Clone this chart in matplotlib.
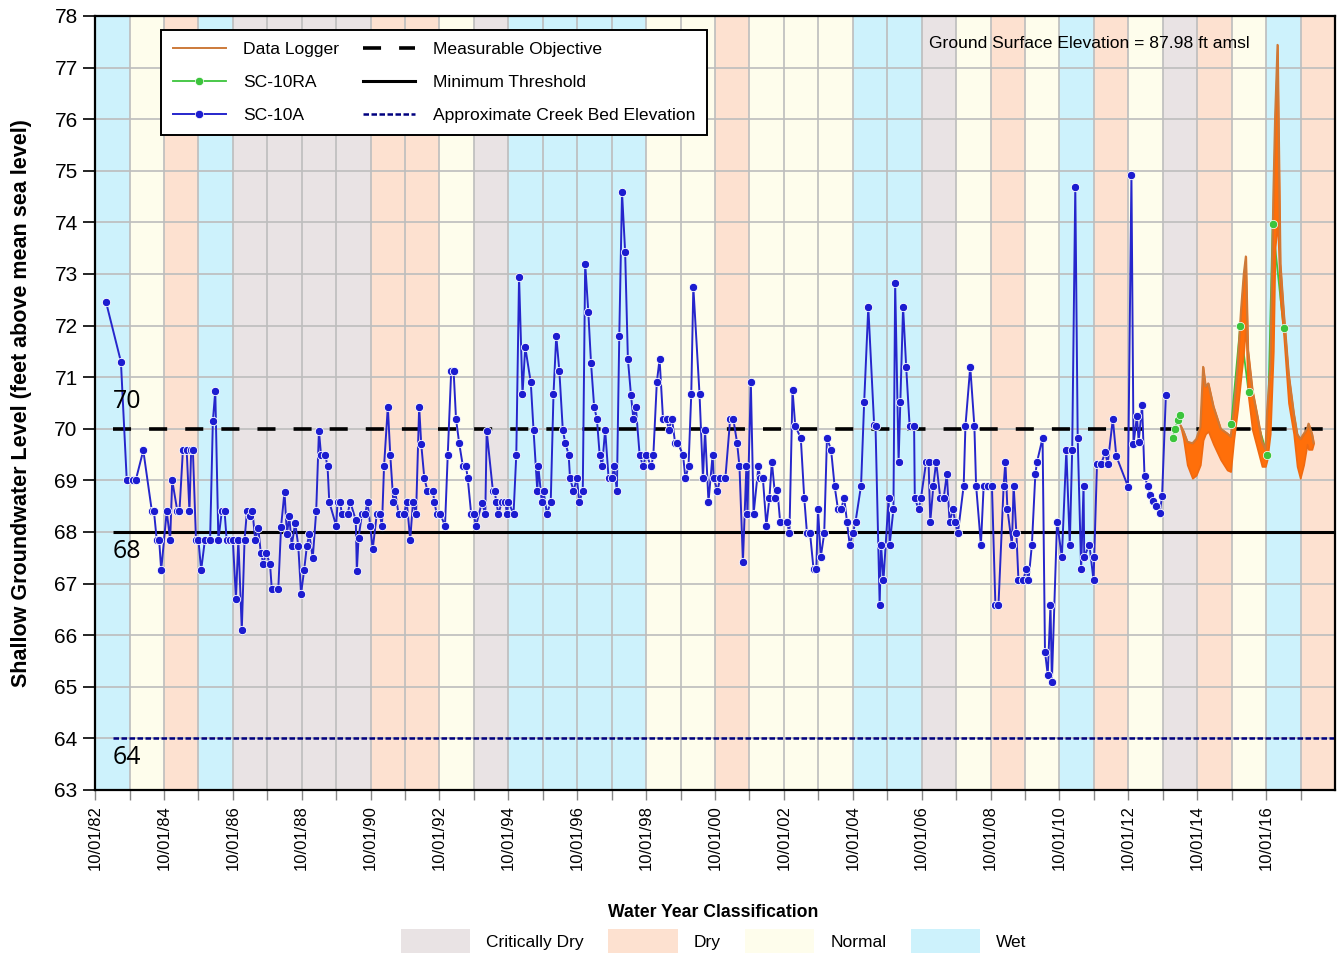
import matplotlib
matplotlib.use("Agg")
import matplotlib.pyplot as plt
from matplotlib.lines import Line2D
from matplotlib.patches import Patch

OUTPUT_PATH = "out.png"

# water year classification, WY1983 .. WY2018 (each year starts 10/01 of the previous year)
water_years = list(range(1983, 2019))
wy_class = [
    "Wet", "Normal", "Dry", "Wet", "Critically Dry", "Critically Dry", "Critically Dry",
    "Critically Dry", "Dry", "Dry", "Normal", "Critically Dry", "Wet", "Wet", "Wet", "Wet",
    "Normal", "Normal", "Dry", "Normal", "Normal", "Normal", "Wet", "Wet", "Critically Dry",
    "Normal", "Dry", "Normal", "Wet", "Dry", "Normal", "Critically Dry", "Dry", "Normal",
    "Wet", "Dry",
]
class_names = ["Critically Dry", "Dry", "Normal", "Wet"]
class_colors = {
    "Critically Dry": "#E9E3E4",
    "Dry": "#FDE1D0",
    "Normal": "#FEFDEC",
    "Wet": "#CDF2FC",
}

# SC-10A (decimal year, ft amsl)
sc10a_year = [
    1983.07, 1983.50, 1983.67, 1983.86, 1983.93, 1984.15, 1984.40, 1984.46, 1984.54, 1984.61,
    1984.67, 1984.83, 1984.93, 1984.99, 1985.14, 1985.20, 1985.30, 1985.41, 1985.49, 1985.54,
    1985.59, 1985.68, 1985.75, 1985.83, 1985.94, 1986.09, 1986.17, 1986.24, 1986.33, 1986.43,
    1986.51, 1986.57, 1986.67, 1986.75, 1986.84, 1986.91, 1987.01, 1987.09, 1987.16, 1987.25,
    1987.32, 1987.40, 1987.49, 1987.56, 1987.64, 1987.71, 1987.83, 1987.88, 1988.07, 1988.15,
    1988.25, 1988.32, 1988.39, 1988.46, 1988.56, 1988.65, 1988.73, 1988.82, 1988.90, 1988.97,
    1989.07, 1989.17, 1989.25, 1989.31, 1989.43, 1989.50, 1989.55, 1989.75, 1989.79, 1989.87,
    1989.91, 1990.08, 1990.16, 1990.32, 1990.35, 1990.40, 1990.50, 1990.59, 1990.66, 1990.74,
    1990.81, 1990.93, 1991.01, 1991.08, 1991.14, 1991.25, 1991.32, 1991.41, 1991.46, 1991.56,
    1991.72, 1991.80, 1991.90, 1991.98, 1992.07, 1992.16, 1992.22, 1992.31, 1992.40, 1992.56,
    1992.60, 1992.67, 1992.77, 1992.91, 1992.99, 1993.09, 1993.16, 1993.23, 1993.32, 1993.43,
    1993.52, 1993.57, 1993.67, 1993.74, 1993.81, 1993.98, 1994.08, 1994.12, 1994.30, 1994.35,
    1994.40, 1994.46, 1994.56, 1994.66, 1994.71, 1994.75, 1994.90, 1994.98, 1995.06, 1995.16,
    1995.24, 1995.40, 1995.48, 1995.59, 1995.62, 1995.72, 1995.77, 1995.87, 1995.98, 1996.06,
    1996.14, 1996.23, 1996.33, 1996.40, 1996.50, 1996.54, 1996.64, 1996.74, 1996.81, 1996.91,
    1996.98, 1997.07, 1997.15, 1997.24, 1997.32, 1997.40, 1997.47, 1997.56, 1997.66, 1997.76,
    1997.82, 1997.90, 1997.97, 1998.05, 1998.14, 1998.22, 1998.31, 1998.38, 1998.45, 1998.56,
    1998.66, 1998.75, 1998.90, 1998.96, 1999.06, 1999.14, 1999.24, 1999.35, 1999.40, 1999.50,
    1999.59, 1999.66, 1999.82, 1999.89, 1999.98, 2000.06, 2000.12, 2000.30, 2000.40, 2000.46,
    2000.56, 2000.68, 2000.71, 2000.82, 2000.90, 2001.05, 2001.19, 2001.28, 2001.39, 2001.46,
    2001.56, 2001.66, 2001.69, 2001.79, 2001.87, 2002.01, 2002.06, 2002.14, 2002.24, 2002.33,
    2002.40, 2002.50, 2002.56, 2002.64, 2002.84, 2002.91, 2003.00, 2003.08, 2003.24, 2003.34,
    2003.42, 2003.51, 2003.61, 2003.69, 2003.74, 2003.82, 2003.92, 2004.00, 2004.12, 2004.22,
    2004.32, 2004.41, 2004.50, 2004.58, 2004.66, 2004.75, 2004.83, 2004.99, 2005.08, 2005.20,
    2005.37, 2005.41, 2005.53, 2005.57, 2005.64, 2005.79, 2005.82, 2005.93, 2005.98, 2006.08,
    2006.13, 2006.21, 2006.30, 2006.40, 2006.53, 2006.55, 2006.66, 2006.73, 2006.88, 2006.95,
    2007.00, 2007.09, 2007.17, 2007.29, 2007.39, 2007.48, 2007.56, 2007.66, 2007.72, 2007.80,
    2007.97, 2008.02, 2008.16, 2008.28, 2008.33, 2008.47, 2008.55, 2008.68, 2008.79, 2008.89,
    2008.98, 2009.13, 2009.18, 2009.24, 2009.37, 2009.42, 2009.50, 2009.56, 2009.69, 2009.79,
    2009.85, 2009.95, 2010.05, 2010.10, 2010.26, 2010.33, 2010.41, 2010.49, 2010.53, 2010.68,
    2010.82, 2010.95, 2011.05, 2011.12, 2011.21, 2011.28, 2011.38, 2011.45, 2011.47, 2011.62,
    2011.74, 2011.76, 2011.84, 2011.96, 2012.08, 2012.15, 2012.30, 2012.40, 2012.74, 2012.84,
    2012.90, 2013.00, 2013.05, 2013.15, 2013.22, 2013.31, 2013.39, 2013.48, 2013.56, 2013.66,
    2013.73, 2013.84,
]
sc10a_level = [
    72.45, 71.30, 69.00, 69.00, 69.00, 69.58, 68.40, 68.40, 67.85, 67.85,
    67.26, 68.40, 67.85, 69.00, 68.40, 68.40, 69.58, 69.58, 68.40, 69.58,
    69.58, 67.85, 67.85, 67.26, 67.85, 67.85, 70.15, 70.73, 67.85, 68.40,
    68.40, 67.85, 67.85, 67.85, 66.70, 67.85, 66.10, 67.85, 68.40, 68.30,
    68.40, 67.85, 68.07, 67.60, 67.38, 67.60, 67.38, 66.90, 66.90, 68.10,
    68.78, 67.96, 68.30, 67.73, 68.18, 67.73, 66.80, 67.26, 67.73, 67.96,
    67.49, 68.40, 69.96, 69.50, 69.50, 69.27, 68.58, 68.12, 68.58, 68.58,
    68.35, 68.35, 68.58, 68.23, 67.24, 67.89, 68.35, 68.35, 68.58, 68.12,
    67.66, 68.35, 68.35, 68.12, 69.27, 70.43, 69.50, 68.58, 68.80, 68.35,
    68.35, 68.58, 67.85, 68.58, 68.35, 70.43, 69.70, 69.04, 68.80, 68.80,
    68.58, 68.35, 68.35, 68.12, 69.50, 71.12, 71.12, 70.19, 69.73, 69.27,
    69.27, 69.04, 68.35, 68.35, 68.12, 68.57, 68.35, 69.96, 68.80, 68.80,
    68.58, 68.35, 68.58, 68.58, 68.35, 68.58, 68.35, 69.50, 72.95, 70.67,
    71.58, 70.90, 69.98, 68.80, 69.27, 68.58, 68.80, 68.35, 68.58, 70.67,
    71.80, 71.12, 69.98, 69.73, 69.50, 69.04, 68.80, 69.04, 68.58, 68.80,
    73.20, 72.27, 71.27, 70.43, 70.19, 69.50, 69.27, 69.98, 69.04, 69.04,
    69.27, 68.80, 71.80, 74.58, 73.43, 71.35, 70.65, 70.19, 70.43, 69.50,
    69.27, 69.50, 69.27, 69.50, 70.90, 71.35, 70.19, 70.19, 69.98, 70.19,
    69.73, 69.73, 69.50, 69.04, 69.27, 70.67, 72.75, 70.67, 69.04, 69.98,
    68.58, 69.50, 69.04, 68.80, 69.04, 69.04, 70.19, 70.19, 69.73, 69.27,
    67.42, 69.27, 68.35, 70.90, 68.35, 69.27, 69.04, 69.04, 68.12, 68.66,
    69.36, 68.66, 68.82, 68.20, 68.20, 67.97, 70.75, 70.05, 69.82, 68.66,
    67.97, 67.97, 67.28, 67.28, 68.44, 67.51, 67.97, 69.82, 69.59, 68.90,
    68.44, 68.44, 68.66, 68.20, 67.75, 67.97, 68.20, 68.90, 70.51, 72.36,
    70.07, 70.05, 66.59, 67.75, 67.06, 68.66, 67.75, 68.44, 72.83, 69.36,
    70.51, 72.36, 71.20, 70.05, 70.05, 68.66, 68.44, 68.66, 69.36, 69.36,
    68.20, 68.90, 69.36, 68.66, 68.66, 69.12, 68.20, 68.44, 68.20, 67.97,
    68.90, 70.05, 71.20, 70.05, 68.90, 67.75, 68.90, 68.90, 68.90, 66.59,
    66.59, 68.90, 69.36, 68.44, 67.75, 68.90, 67.97, 67.06, 67.06, 67.28,
    67.06, 67.75, 69.12, 69.36, 69.82, 65.68, 65.23, 66.59, 65.10, 68.20,
    67.51, 69.59, 67.75, 69.59, 74.69, 69.82, 67.28, 68.90, 67.52, 67.75,
    67.06, 67.51, 69.32, 69.32, 69.54, 69.32, 70.19, 69.47, 68.88, 74.92,
    69.70, 70.25, 69.75, 70.46, 69.08, 68.90, 68.72, 68.60, 68.50, 68.36,
    68.70, 70.65,
]

# SC-10RA (nan = no connecting line between the two sampling periods)
sc10ra_year = [2014.04, 2014.11, 2014.19, 2014.25, 2015.00, 2015.74, 2016.00, 2016.24, 2016.78,
               2016.94, 2017.26]
sc10ra_level = [69.83, 70.00, 70.17, 70.27, float("nan"), 70.10, 72.00, 70.72, 69.50, 73.97,
                71.95]

# Data logger, daily record read as low / high envelope
logger_year = [
    2014.26, 2014.35, 2014.46, 2014.61, 2014.72, 2014.84, 2014.92, 2014.99, 2015.07, 2015.22,
    2015.43, 2015.62, 2015.72, 2015.81, 2015.92, 2016.02, 2016.10, 2016.16, 2016.22, 2016.35,
    2016.50, 2016.63, 2016.73, 2016.78, 2016.87, 2016.96, 2017.01, 2017.08, 2017.16, 2017.26,
    2017.40, 2017.55, 2017.65, 2017.74, 2017.84, 2017.94, 2017.98, 2018.08, 2018.13,
]
logger_low = [
    70.07, 69.80, 69.30, 69.04, 69.10, 69.30, 69.78, 69.90, 69.95, 69.70,
    69.40, 69.20, 69.17, 69.78, 70.36, 71.00, 71.50, 72.00, 70.69, 69.98,
    69.60, 69.27, 69.27, 69.40, 69.90, 71.50, 73.50, 74.00, 72.50, 71.80,
    70.50, 69.90, 69.27, 69.04, 69.30, 69.70, 69.60, 69.60, 69.72,
]
logger_high = [
    70.07, 69.95, 69.75, 69.72, 69.80, 70.04, 71.20, 70.82, 70.88, 70.43,
    70.00, 69.91, 69.85, 70.36, 71.20, 72.30, 73.00, 73.34, 71.53, 70.75,
    70.23, 69.75, 69.60, 70.36, 71.20, 74.57, 76.05, 77.44, 73.20, 72.24,
    71.07, 70.30, 69.90, 69.80, 69.90, 70.00, 70.10, 69.90, 69.72,
]

measurable_objective = 70
minimum_threshold = 68
creek_bed = 64
ref_start = 1983.27

x_min, x_max = 1982.75, 2018.75
y_min, y_max = 63, 78

ARIAL = ["Liberation Sans", "DejaVu Sans"]


def main():
    plt.rcParams["font.family"] = ARIAL
    fig = plt.figure(figsize=(13.39, 9.58), dpi=100)
    ax = fig.add_axes([0.071, 0.1754, 0.926, 0.808])

    # water year bands, 10/01 to 10/01
    for wy, cls in zip(water_years, wy_class):
        ax.axvspan(wy - 0.25, wy + 0.75, color=class_colors[cls], lw=0, zorder=0)

    for wy in water_years:
        ax.axvline(wy - 0.25, color="#BDBDBD", lw=1.2, zorder=1)
    for lvl in range(y_min, y_max + 1):
        ax.axhline(lvl, color="#BDBDBD", lw=1.2, zorder=1)

    ax.hlines(measurable_objective, ref_start, x_max, colors="black", linestyles=(0, (5, 5)),
              lw=2.6, zorder=3)
    ax.hlines(minimum_threshold, ref_start, x_max, colors="black", lw=2.2, zorder=3)
    ax.hlines(creek_bed, ref_start, x_max, colors="#00007F", linestyles=(0, (2.2, 1)),
              lw=1.8, zorder=3)

    ax.plot(sc10a_year, sc10a_level, color="#2626CC", lw=1.4, marker="o", ms=6,
            mfc="#1C1CD0", mec="white", mew=0.6, zorder=4)

    # green line sits under the logger band, its dots on top
    ax.plot(sc10ra_year, sc10ra_level, color="#3CC43C", lw=1.3, zorder=4.5)
    ax.fill_between(logger_year, logger_low, logger_high, color="#FF6F0A", lw=1.2,
                    edgecolor="#F06A10", zorder=5)
    ax.plot(logger_year, logger_high, color="#CC7A3A", lw=1.4, zorder=5)
    ax.plot(sc10ra_year, sc10ra_level, linestyle="none", marker="o", ms=6,
            mfc="#3CC43C", mec="white", mew=0.5, zorder=6)

    ref_font = ["Open Sans", "DejaVu Sans"]
    ax.text(ref_start, 70.52, "70", fontsize=18, family=ref_font, va="center", ha="left", zorder=7)
    ax.text(ref_start, 67.63, "68", fontsize=18, family=ref_font, va="center", ha="left", zorder=7)
    ax.text(ref_start, 63.62, "64", fontsize=18, family=ref_font, va="center", ha="left", zorder=7)

    ax.text(0.6726, 0.964, "Ground Surface Elevation = 87.98 ft amsl", transform=ax.transAxes,
            fontsize=12.6, va="center", ha="left", zorder=7)

    major = [x_min + 2 * k for k in range(18)]
    ax.set_xticks(major)
    ax.set_xticklabels([f"10/01/{int(m) % 100:02d}" for m in major], rotation=90, fontsize=12)
    ax.set_xticks([wy - 0.25 for wy in water_years], minor=True)
    ax.set_yticks(range(y_min, y_max + 1))
    ax.set_xlim(x_min, x_max)
    ax.set_ylim(y_min, y_max)
    ax.tick_params(axis="y", labelsize=15, length=9, width=1.2, direction="out")
    ax.tick_params(axis="x", which="both", length=7, width=1, color="#888888", pad=4)
    for spine in ax.spines.values():
        spine.set_color("black")
        spine.set_linewidth(1.6)
        spine.set_zorder(8)

    ax.set_ylabel("Shallow Groundwater Level (feet above mean sea level)", fontsize=15.5,
                  fontweight="bold", labelpad=16)

    handles = [
        Line2D([], [], color="#CC7A3A", lw=1.4),
        Line2D([], [], color="#3CC43C", lw=1.3, marker="o", ms=6, mec="white", mew=0.5),
        Line2D([], [], color="#2626CC", lw=1.4, marker="o", ms=6, mfc="#1C1CD0", mec="white",
               mew=0.5),
        Line2D([], [], color="black", lw=2.6, linestyle=(0, (5, 5))),
        Line2D([], [], color="black", lw=2.2),
        Line2D([], [], color="#00007F", lw=1.8, linestyle=(0, (2.2, 1))),
    ]
    labels = ["Data Logger", "SC-10RA", "SC-10A", "Measurable Objective", "Minimum Threshold",
              "Approximate Creek Bed Elevation"]
    leg = ax.legend(handles, labels, ncol=2, loc="upper left", bbox_to_anchor=(0.0532, 0.982),
                    borderaxespad=0, prop={"size": 12.6}, fancybox=False, framealpha=1,
                    edgecolor="black", handlelength=3.0, handletextpad=1.0, columnspacing=1.35,
                    borderpad=0.69, labelspacing=1.0)
    leg.get_frame().set_linewidth(1.4)
    leg.set_zorder(9)

    class_handles = [Patch(facecolor=class_colors[c], edgecolor="none") for c in class_names]
    fig.legend(class_handles, class_names, ncol=4, loc="upper center",
               bbox_to_anchor=(0.533, 0.073), frameon=False,
               prop={"size": 12.5}, handlelength=4.0, handleheight=1.73,
               handletextpad=0.92, columnspacing=1.4,
               title="Water Year Classification",
               title_fontproperties={"size": 12.7, "weight": "bold"})

    fig.savefig(OUTPUT_PATH, dpi=100)
    plt.close(fig)


if __name__ == "__main__":
    main()
